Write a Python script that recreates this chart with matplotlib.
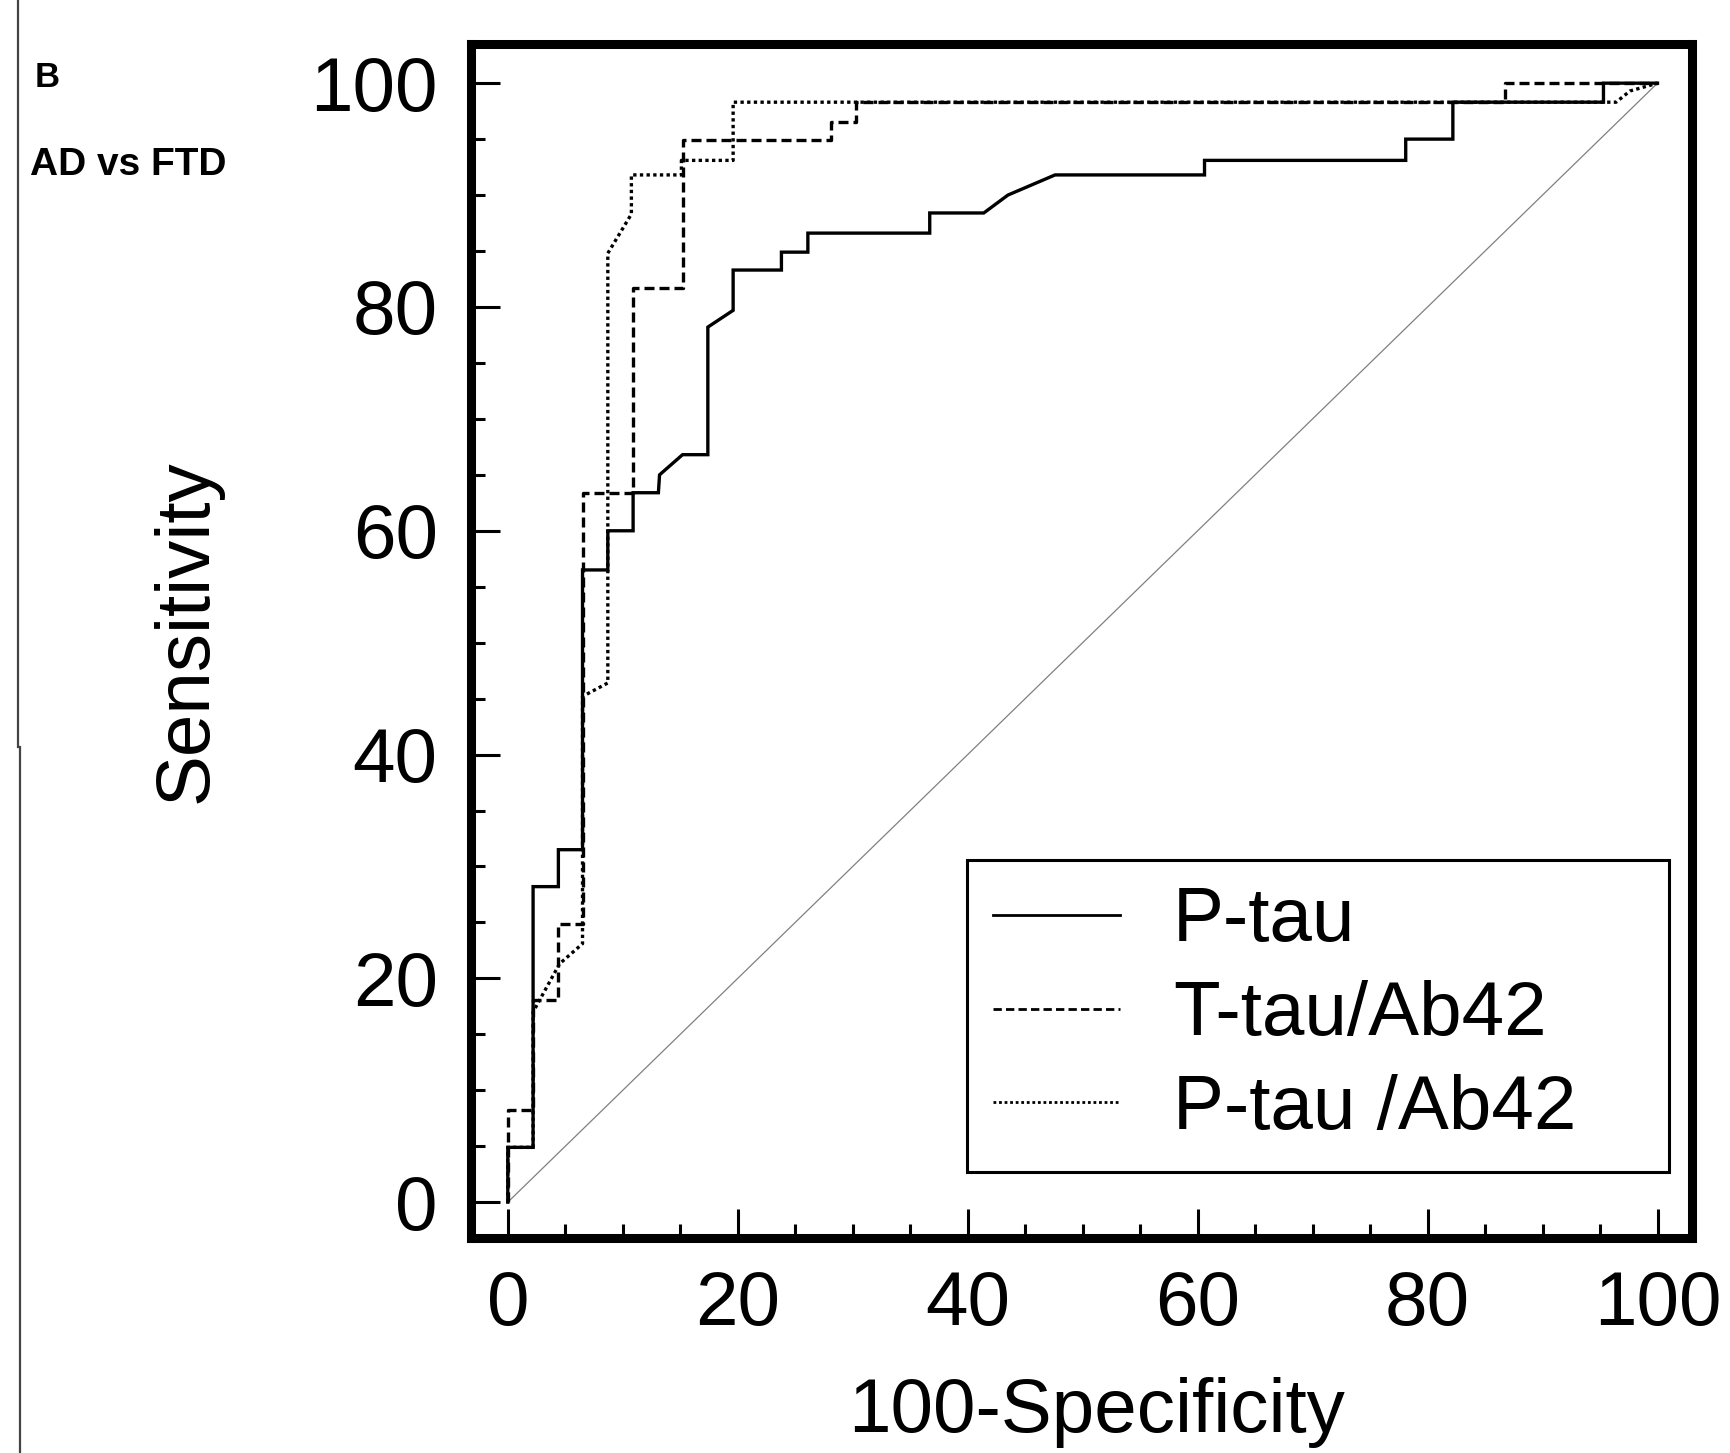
import matplotlib
matplotlib.use("Agg")
import matplotlib.pyplot as plt
from matplotlib.lines import Line2D
from matplotlib.ticker import MultipleLocator

plt.rcParams['font.family'] = ['Liberation Sans', 'DejaVu Sans']

# ROC curve data (100-Specificity, Sensitivity)
ptau_x = [0, 0, 2.2, 2.2, 4.4, 4.4, 6.5, 6.5, 8.7, 8.7, 10.9, 10.9, 13.1, 13.2, 15.2, 17.4, 17.4,
          19.6, 19.6, 23.8, 23.8, 26.1, 26.1, 36.7, 36.7, 41.4, 43.5, 47.6, 60.6, 60.6, 78.1, 78.1,
          82.2, 82.2, 95.3, 95.3, 100]
ptau_y = [0, 4.9, 4.9, 28.2, 28.2, 31.5, 31.5, 56.5, 56.5, 60.0, 60.0, 63.4, 63.4, 65.0, 66.8, 66.8, 78.2,
          79.7, 83.3, 83.3, 84.9, 84.9, 86.6, 86.6, 88.4, 88.4, 90.0, 91.8, 91.8, 93.1, 93.1, 95.0,
          95.0, 98.3, 98.3, 100, 100]

ttau_ab_x = [0, 0, 2.2, 2.2, 4.4, 4.4, 6.5, 6.5, 10.9, 10.9, 15.2, 15.2, 28.1, 28.1, 30.3, 30.3,
             86.7, 86.7, 100]
ttau_ab_y = [0, 8.2, 8.2, 18.1, 18.1, 24.9, 24.9, 63.4, 63.4, 81.7, 81.7, 94.9, 94.9, 96.5, 96.5, 98.3,
             98.3, 100, 100]

ptau_ab_x = [0, 0, 2.2, 2.2, 4.5, 6.5, 6.5, 8.7, 8.7, 10.75, 10.75, 15.1, 15.1, 19.6, 19.6,
             96.4, 97.6, 100]
ptau_ab_y = [0, 4.9, 4.9, 17.0, 21.3, 23.1, 45.2, 46.4, 84.8, 88.3, 91.8, 91.8, 93.1, 93.1, 98.3,
             98.3, 99.3, 100]

ref_x = [0, 100]
ref_y = [0, 100]

labels = ["P-tau", "T-tau/Ab42", "P-tau /Ab42"]
xticks = [0, 20, 40, 60, 80, 100]
yticks = [0, 20, 40, 60, 80, 100]

fig = plt.figure(figsize=(17.31, 14.53), dpi=100)
ax = fig.add_axes([471/1731, 1 - 1238/1453, (1692-471)/1731, (1238-44)/1453])

ax.plot(ref_x, ref_y, color='#808080', lw=0.9)
lw = 2.4
ax.plot(ptau_x, ptau_y, color='black', lw=lw, solid_joinstyle='miter')
ax.plot(ttau_ab_x, ttau_ab_y, color='black', lw=lw, linestyle=(0, (3.0, 1.5)))
ax.plot(ptau_ab_x, ptau_ab_y, color='black', lw=lw, linestyle=(0, (1.0, 1.0)))

ax.set_xlim(-3.2, 103.0)
ax.set_ylim(-3.2, 103.5)
ax.set_xticks(xticks)
ax.set_yticks(yticks)
ax.xaxis.set_minor_locator(MultipleLocator(5))
ax.yaxis.set_minor_locator(MultipleLocator(5))
ax.tick_params(which='both', direction='in', width=2.2, colors='black', labelsize=55)
ax.tick_params(which='major', length=21)
ax.tick_params(which='minor', length=10)
ax.tick_params(axis='y', which='both', pad=24)
ax.tick_params(axis='x', which='both', pad=23)
for sp in ax.spines.values():
    sp.set_linewidth(6.5)
    sp.set_color('black')

ax.set_xlabel("100-Specificity", fontsize=55, labelpad=26)
ax.set_ylabel("Sensitivity", fontsize=55, labelpad=63)
ax.xaxis.label.set_x(0.512)
ax.yaxis.label.set_y(0.508)

handles = [Line2D([], [], color='black', lw=2.0),
           Line2D([], [], color='black', lw=2.0, linestyle=(0, (3.0, 1.5))),
           Line2D([], [], color='black', lw=2.0, linestyle=(0, (1.0, 1.0)))]
leg = ax.legend(handles, labels, loc='lower left',
                bbox_to_anchor=(0.406, 0.0553, 0.575, 0.25), mode='expand',
                borderaxespad=0, fontsize=55, fancybox=False, framealpha=1,
                edgecolor='black', handlelength=1.65, handletextpad=0.7,
                labelspacing=0.3, borderpad=0.35)
leg.get_frame().set_linewidth(2.2)

fig.text(35/1731, 1 - 87/1453, "B", fontsize=25, fontweight='bold', va='baseline', ha='left')
fig.text(30/1731, 1 - 175/1453, "AD vs FTD", fontsize=28, fontweight='bold', va='baseline', ha='left')

# panel divider line on the left
fig.add_artist(Line2D([18/1731, 18/1731], [1, 1 - 747/1453], color='#444444', lw=1.6,
                      transform=fig.transFigure))
fig.add_artist(Line2D([20.5/1731, 20.5/1731], [1 - 747/1453, 0], color='#444444', lw=1.6,
                      transform=fig.transFigure))

fig.savefig("out.png", dpi=100)
